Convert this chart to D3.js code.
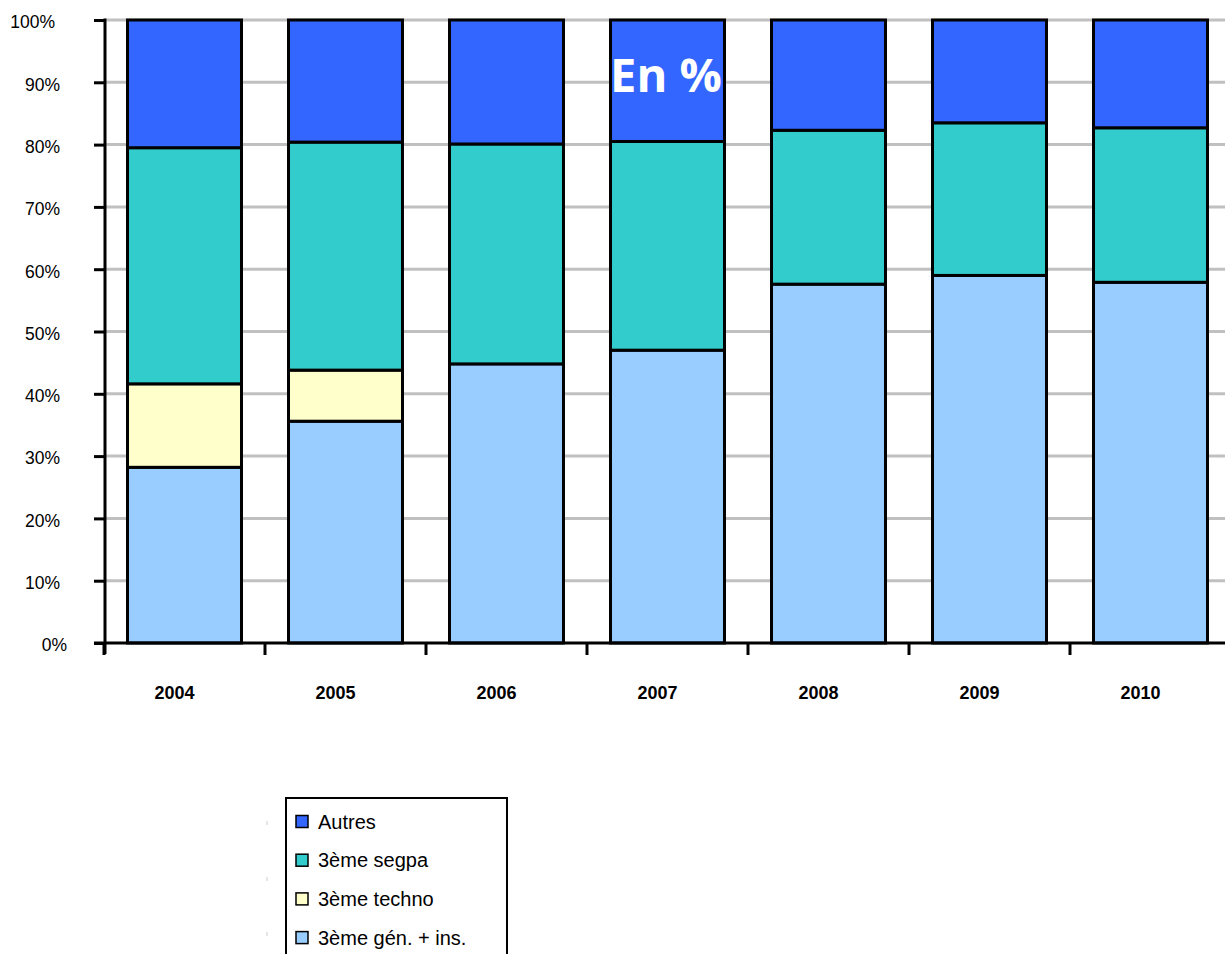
<!DOCTYPE html>
<html><head><meta charset="utf-8">
<script src="https://cdn.jsdelivr.net/npm/d3@7"></script>
<style>html,body{margin:0;padding:0;background:#fff;overflow:hidden}</style>
</head><body>
<svg id="c" width="1225" height="954"></svg>
<script>
const years = ["2004","2005","2006","2007","2008","2009","2010"];
const seriesNames = ["3ème gén. + ins.","3ème techno","3ème segpa","Autres"];
const gen    = [28.2, 35.6, 44.8, 47.0, 57.6, 59.0, 57.9];
const techno = [13.4,  8.2,  0,    0,    0,    0,    0];
const segpa  = [37.9, 36.6, 35.3, 33.5, 24.7, 24.5, 24.8];
const autres = [20.5, 19.6, 19.9, 19.5, 17.7, 16.5, 17.3];
const yTicks = [0,10,20,30,40,50,60,70,80,90,100];
const colors = ["#99CCFF","#FFFFCC","#33CCCC","#3366FF"];

const svg = d3.select("#c");
const x0 = 104, plotTop = 20, plotBottom = 643;
const x = d3.scaleBand().domain(years).range([x0, x0 + 161*7]).paddingInner(0.292).paddingOuter(0.146);
const y = d3.scaleLinear().domain([0,100]).range([plotBottom, plotTop]);

// gridlines
svg.append("g").selectAll("line").data(yTicks.filter(d=>d>0)).join("line")
  .attr("x1", 105).attr("x2", 1225).attr("y1", d=>y(d)).attr("y2", d=>y(d))
  .attr("stroke", "#c0c0c0").attr("stroke-width", 3);

// data stacking
const rows = years.map((yr,i)=>({year:yr, s0:gen[i], s1:techno[i], s2:segpa[i], s3:autres[i]}));
const stack = d3.stack().keys(["s0","s1","s2","s3"]);
const stacked = stack(rows);

const g = svg.append("g");
stacked.forEach((layer, li) => {
  g.append("g").selectAll("rect").data(layer.filter(d=>d[1]-d[0]>0)).join("rect")
    .attr("x", d=>x(d.data.year)).attr("width", x.bandwidth())
    .attr("y", d=>y(d[1])).attr("height", d=>y(d[0])-y(d[1]))
    .attr("fill", colors[li]).attr("stroke", "#000").attr("stroke-width", 3);
});

// y axis
const yAxis = d3.axisLeft(y).tickValues(yTicks).tickSize(11).tickFormat(d=>d+"%");
const ya = svg.append("g").attr("transform","translate(105,0)").call(yAxis);
ya.select(".domain").remove();
ya.selectAll(".tick line").attr("stroke","#000").attr("stroke-width",3);
ya.selectAll(".tick text").attr("x", -45).attr("dy","0.45em")
  .attr("font-family","Liberation Sans, Arial, sans-serif").attr("font-size",17.5).attr("fill","#000")
  .attr("dx", d => d===100 ? -5 : d===0 ? 7 : 0);
svg.append("line").attr("x1",105).attr("x2",105).attr("y1",plotTop-1.5).attr("y2",654)
  .attr("stroke","#000").attr("stroke-width",3);

// x axis
svg.append("line").attr("x1",94).attr("x2",1225).attr("y1",plotBottom).attr("y2",plotBottom)
  .attr("stroke","#000").attr("stroke-width",3);
const bounds = years.map(yr => x(yr) - x.step()*x.paddingOuter());
svg.append("g").selectAll("line").data(bounds).join("line")
  .attr("x1", d=>d).attr("x2", d=>d).attr("y1", plotBottom).attr("y2", 655)
  .attr("stroke","#000").attr("stroke-width",3);
svg.append("g").selectAll("text").data(years).join("text")
  .attr("x", d=>x(d)+x.bandwidth()/2 - 10).attr("y", 698.5)
  .attr("text-anchor","middle").attr("font-family","Liberation Sans, Arial, sans-serif")
  .attr("font-weight","bold").attr("font-size",18).text(d=>d);

// En %
svg.append("text").attr("x", 666).attr("y", 92).attr("text-anchor","middle")
  .attr("font-family","Open Sans, sans-serif").attr("font-weight","bold").attr("font-size",47)
  .attr("fill","#fff").text("En %");

// legend
const leg = svg.append("g");
leg.append("rect").attr("x",286).attr("y",798).attr("width",221).attr("height",180)
  .attr("fill","#fff").attr("stroke","#000").attr("stroke-width",2);
const legItems = seriesNames.map((n,i)=>({name:n, color:colors[i]})).reverse();
const li = leg.selectAll("g.it").data(legItems).join("g").attr("class","it")
  .attr("transform",(d,i)=>`translate(296,${821.5 + i*38.7})`);
li.append("rect").attr("x",0).attr("y",-6).attr("width",12).attr("height",12)
  .attr("fill",d=>d.color).attr("stroke","#000").attr("stroke-width",1.5);
li.append("text").attr("x",22).attr("y",0).attr("dy","0.36em")
  .attr("font-family","Liberation Sans, Arial, sans-serif").attr("font-size",20).text(d=>d.name);
// faint marks
leg.selectAll("line.m").data([823,879,934]).join("line").attr("class","m")
  .attr("x1",267).attr("x2",267).attr("y1",d=>d-2).attr("y2",d=>d+2)
  .attr("stroke","#ccc").attr("stroke-width",1);
</script>
</body></html>
